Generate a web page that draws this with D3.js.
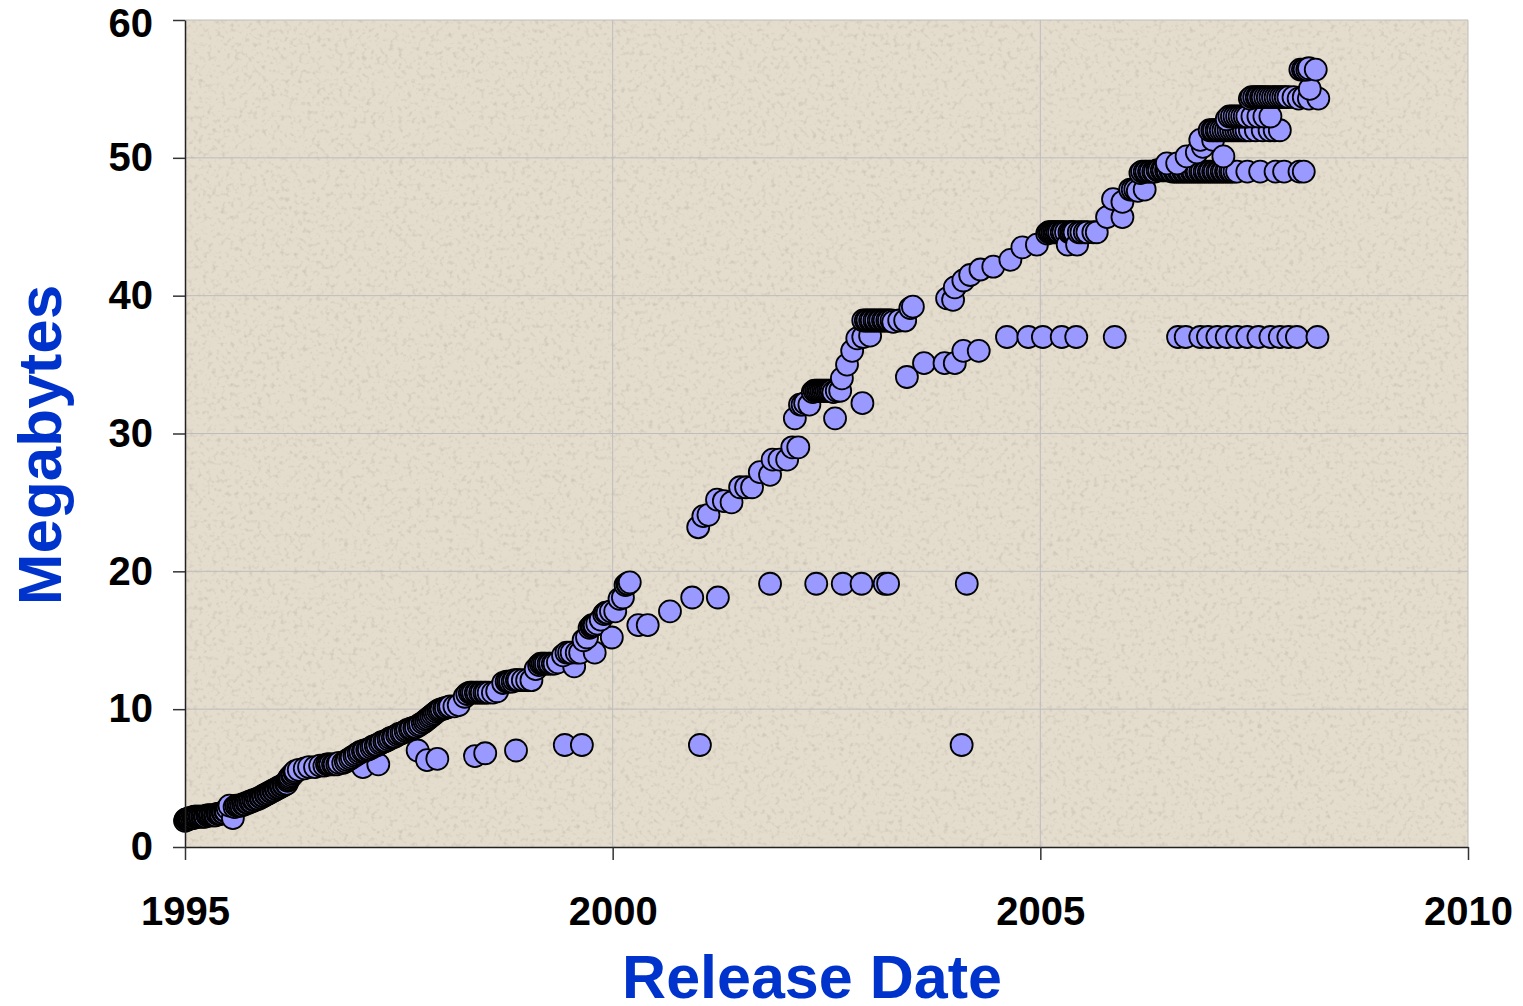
<!DOCTYPE html>
<html>
<head>
<meta charset="utf-8">
<script src="https://cdn.jsdelivr.net/npm/d3@7"></script>
<style>
  body { margin: 0; background: #fff; }
  text { font-family: Arial, "Liberation Sans", sans-serif; }
</style>
</head>
<body>
<div id="chart"></div>
<script>
// [release date (decimal year), size in MB]
var early = [[1995.00,1.9],[1995.01,2.0],[1995.02,2.0],[1995.03,2.0],[1995.04,2.0],[1995.05,2.1],[1995.06,2.1],
  [1995.08,2.1],[1995.10,2.1],[1995.11,2.2],[1995.12,2.2],[1995.14,2.2],[1995.15,2.2],[1995.17,2.2],[1995.18,2.2],
  [1995.20,2.2],[1995.21,2.2],[1995.23,2.2],[1995.24,2.2],[1995.26,2.3],[1995.27,2.3],[1995.29,2.3],[1995.30,2.3],
  [1995.32,2.3],[1995.33,2.3],[1995.35,2.3],[1995.36,2.3],[1995.38,2.4],[1995.39,2.4],[1995.41,2.4],[1995.42,2.4],
  [1995.44,2.5],[1995.45,2.5],[1995.47,2.6],[1995.48,2.6],[1995.50,2.8],[1995.56,2.1],[1995.52,3.0],[1995.58,2.9],
  [1995.60,3.0],[1995.62,3.0],[1995.64,3.0],[1995.66,3.0],[1995.68,3.1],[1995.70,3.1],[1995.72,3.2],[1995.74,3.2],
  [1995.76,3.3],[1995.78,3.3],[1995.80,3.4],[1995.82,3.4],[1995.84,3.5],[1995.86,3.5],[1995.88,3.6],[1995.89,3.6],
  [1995.91,3.7],[1995.92,3.7],[1995.94,3.8],[1995.95,3.8],[1995.97,3.9],[1995.98,3.9],[1996.00,4.0],[1996.01,4.0],
  [1996.03,4.1],[1996.04,4.1],[1996.06,4.2],[1996.07,4.2],[1996.09,4.3],[1996.10,4.3],[1996.12,4.4],[1996.13,4.4],
  [1996.15,4.5],[1996.16,4.5],[1996.18,4.6],[1996.19,4.6],[1996.20,4.8],[1996.21,4.9],[1996.22,5.0],[1996.23,5.1],
  [1996.25,5.2],[1996.26,5.3],[1996.28,5.4],[1996.29,5.5],[1996.33,5.6]];
var row6 = [[1996.40,5.7],[1996.45,5.8],[1996.52,5.8],[1996.58,5.9],[1996.63,5.9],[1996.66,6.0],[1996.68,6.0],
  [1996.70,6.0],[1996.73,6.0],[1996.75,6.0],[1996.78,6.0],[1996.80,6.1],[1996.85,6.1],[1997.08,5.8],[1997.26,6.0]];
var row7 = [[1997.72,7.0],[1997.83,6.3],[1997.95,6.4],[1998.39,6.6],[1998.51,6.8],[1998.87,7.0],[1999.44,7.4],
  [1999.64,7.4],[2001.02,7.4],[2004.08,7.4]];
var mainRise = [[1996.88,6.2],[1996.90,6.3],[1996.93,6.4],[1996.95,6.5],[1996.98,6.6],[1997.00,6.7],[1997.03,6.8],
  [1997.05,6.9],[1997.08,6.95],[1997.10,7.0],[1997.13,7.05],[1997.15,7.1],[1997.18,7.2],[1997.20,7.3],[1997.23,7.35],
  [1997.25,7.4],[1997.28,7.5],[1997.30,7.6],[1997.33,7.65],[1997.35,7.7],[1997.38,7.8],[1997.40,7.9],[1997.43,7.95],
  [1997.45,8.0],[1997.48,8.1],[1997.50,8.2],[1997.53,8.25],[1997.55,8.3],[1997.58,8.4],[1997.60,8.5],[1997.63,8.55],
  [1997.65,8.6],[1997.68,8.65],[1997.70,8.7],[1997.73,8.8],[1997.75,8.9],[1997.78,9.0],[1997.80,9.1],[1997.82,9.2],
  [1997.84,9.3],[1997.86,9.4],[1997.88,9.5],[1997.90,9.6],[1997.92,9.7],[1997.94,9.8],[1997.96,9.9],[1997.98,9.95],
  [1998.00,10.0],[1998.03,10.05],[1998.05,10.1],[1998.08,10.15],[1998.10,10.2],[1998.15,10.2],[1998.20,10.3],
  [1998.27,10.9],[1998.30,11.1],[1998.33,11.2],[1998.35,11.2],[1998.37,11.2],[1998.40,11.2],[1998.42,11.2],
  [1998.45,11.2],[1998.47,11.2],[1998.50,11.2],[1998.52,11.2],[1998.55,11.2],[1998.60,11.2],[1998.65,11.3],
  [1998.72,11.9],[1998.76,12.0],[1998.78,12.0],[1998.80,12.0],[1998.83,12.0],[1998.85,12.1],[1998.88,12.1],
  [1998.90,12.1],[1998.95,12.1],[1999.00,12.1],[1999.05,12.1]];
var rise2000 = [[1999.10,12.9],[1999.14,13.2],[1999.16,13.3],[1999.18,13.3],[1999.20,13.3],[1999.22,13.3],
  [1999.25,13.3],[1999.27,13.3],[1999.30,13.3],[1999.32,13.3],[1999.36,13.4],[1999.55,13.1],[1999.42,13.9],
  [1999.46,14.1],[1999.49,14.1],[1999.52,14.1],[1999.58,14.1],[1999.62,14.1],[1999.79,14.1],[1999.66,15.0],
  [1999.70,15.2],[1999.73,15.9],[1999.75,16.0],[1999.76,16.1],[1999.78,16.1],[1999.79,16.1],[1999.82,16.2],
  [1999.99,15.2],[1999.86,16.5],[1999.90,16.9],[1999.92,17.0],[1999.94,17.0],[1999.98,17.1],[2000.03,17.1],
  [2000.08,18.0],[2000.12,18.1],[2000.15,19.0],[2000.17,19.1],[2000.18,19.1],[2000.20,19.2]];
var row19 = [[2000.30,16.1],[2000.41,16.1],[2000.67,17.1],[2000.93,18.1],[2001.23,18.1],[2001.84,19.1],
  [2002.38,19.1],[2002.69,19.1],[2002.91,19.1],[2003.18,19.1],[2003.22,19.1],[2004.14,19.1]];
var rise2001 = [[2001.00,23.2],[2001.06,24.0],[2001.12,24.1],[2001.22,25.2],[2001.30,25.1],[2001.39,25.0],
  [2001.49,26.1],[2001.56,26.1],[2001.63,26.1],[2001.72,27.2],[2001.84,27.0],[2001.87,28.1],[2001.95,28.1],
  [2002.04,28.1],[2002.10,29.0],[2002.17,29.0],[2002.13,31.1],[2002.19,32.1],[2002.22,32.1],[2002.25,32.2],
  [2002.30,32.1],[2002.60,31.1],[2002.34,33.0],[2002.36,33.1],[2002.38,33.1],[2002.40,33.1],[2002.42,33.1],
  [2002.44,33.1],[2002.46,33.1],[2002.48,33.1],[2002.50,33.1],[2002.52,33.1],[2002.54,33.1],[2002.56,33.1],
  [2002.58,33.0],[2002.62,33.1],[2002.66,33.1],[2002.68,34.0],[2002.74,35.0],[2002.80,36.0],[2002.86,36.9],
  [2002.92,32.2],[2002.93,37.0],[2003.01,37.1],[2002.93,38.2],[2002.96,38.2],[2002.98,38.2],[2003.01,38.2],
  [2003.03,38.2],[2003.06,38.2],[2003.08,38.2],[2003.11,38.2],[2003.13,38.2],[2003.16,38.2],[2003.18,38.2],
  [2003.21,38.2],[2003.23,38.2],[2003.26,38.2],[2003.28,38.1],[2003.35,38.2],[2003.42,38.2],[2003.48,39.1],
  [2003.51,39.2]];
var row37 = [[2003.44,34.1],[2003.64,35.1],[2003.88,35.1],[2004.00,35.1],[2004.10,36.0],[2004.28,36.0],
  [2004.61,37.0],[2004.86,37.0],[2005.03,37.0],[2005.25,37.0],[2005.42,37.0],[2005.87,37.0],[2006.61,37.0],
  [2006.70,37.0],[2006.87,37.0],[2006.96,37.0],[2007.07,37.0],[2007.18,37.0],[2007.30,37.0],[2007.42,37.0],
  [2007.55,37.0],[2007.69,37.0],[2007.80,37.0],[2007.90,37.0],[2008.00,37.0],[2008.24,37.0]];
var rise2004 = [[2003.91,39.8],[2003.98,39.7],[2004.00,40.6],[2004.10,41.1],[2004.18,41.5],[2004.30,41.9],
  [2004.45,42.1],[2004.65,42.6],[2004.79,43.5],[2004.96,43.7],[2005.08,44.5],[2005.10,44.6],[2005.12,44.6],
  [2005.14,44.6],[2005.16,44.6],[2005.18,44.6],[2005.20,44.6],[2005.22,44.6],[2005.25,44.6],[2005.27,44.6],
  [2005.30,44.6],[2005.32,43.7],[2005.34,44.6],[2005.36,44.6],[2005.38,44.6],[2005.40,44.6],[2005.43,43.7],
  [2005.45,44.6],[2005.48,44.6],[2005.52,44.6],[2005.55,44.6],[2005.62,44.6],[2005.66,44.6],[2005.78,45.7],
  [2005.85,47.0],[2005.96,45.7],[2005.96,46.8],[2006.05,47.7],[2006.08,47.7],[2006.11,47.7],[2006.14,47.6],
  [2006.22,47.7]];
var row49 = [[2006.17,48.9],[2006.19,49.0],[2006.22,49.0],[2006.24,49.0],[2006.27,49.0],[2006.29,49.0],
  [2006.32,49.0],[2006.34,49.0],[2006.37,49.1],[2006.39,49.1],[2006.42,49.1],[2006.44,49.1],[2006.47,49.1],
  [2006.49,49.1],[2006.52,49.1],[2006.54,49.0],[2006.57,49.0],[2006.59,49.0],[2006.62,49.0],[2006.64,49.0],
  [2006.67,49.0],[2006.69,49.0],[2006.72,49.0],[2006.74,49.0],[2006.77,49.0],[2006.79,49.0],[2006.82,49.0],
  [2006.84,49.0],[2006.87,49.0],[2006.89,49.0],[2006.92,49.0],[2006.94,49.0],[2006.97,49.0],[2006.99,49.0],
  [2007.02,49.0],[2007.04,49.0],[2007.07,49.0],[2007.09,49.0],[2007.12,49.0],[2007.14,49.0],[2007.17,49.0],
  [2007.19,49.0],[2007.22,49.0],[2007.24,49.0],[2007.27,49.0],[2007.30,49.0],[2007.42,49.0],[2007.57,49.0],
  [2007.75,49.0],[2007.85,49.0],[2008.03,49.0],[2008.08,49.0]];
var steps2007 = [[2006.48,49.6],[2006.60,49.6],[2006.71,50.1],[2006.83,50.4],[2006.90,50.8],[2006.87,51.3],
  [2007.02,51.3],[2007.14,50.1],[2006.98,52.0],[2007.01,52.0],[2007.03,52.0],[2007.06,52.0],[2007.08,52.0],
  [2007.11,52.0],[2007.14,52.0],[2007.17,52.0],[2007.20,52.0],[2007.23,52.0],[2007.26,52.0],[2007.29,52.0],
  [2007.32,52.0],[2007.35,52.0],[2007.38,52.0],[2007.41,52.0],[2007.45,52.0],[2007.52,52.0],[2007.60,52.0],
  [2007.68,52.0],[2007.74,52.0],[2007.80,52.0],[2007.18,52.8],[2007.21,53.0],[2007.24,53.0],[2007.27,53.0],
  [2007.30,53.0],[2007.33,53.0],[2007.36,53.0],[2007.39,53.0],[2007.42,53.0],[2007.48,53.0],[2007.55,53.0],
  [2007.62,53.0],[2007.69,53.0],[2007.45,54.3],[2007.47,54.4],[2007.50,54.4],[2007.53,54.4],[2007.55,54.4],
  [2007.58,54.4],[2007.60,54.4],[2007.63,54.4],[2007.66,54.4],[2007.69,54.4],[2007.72,54.4],[2007.75,54.4],
  [2007.78,54.4],[2007.81,54.4],[2007.84,54.4],[2007.87,54.4],[2007.90,54.4],[2007.96,54.4],[2008.02,54.3],
  [2008.08,54.4],[2008.14,54.3],[2008.25,54.3],[2008.15,55.0],[2008.04,56.4],[2008.07,56.4],[2008.09,56.4],
  [2008.12,56.4],[2008.14,56.5],[2008.22,56.4]];

var yearTicks = [1995, 2000, 2005, 2010];
var mbTicks = [0, 10, 20, 30, 40, 50, 60];

var W = 1523, H = 1006;
var margin = {top: 20, right: 55, bottom: 159, left: 185};
var width = W - margin.left - margin.right,
    height = H - margin.top - margin.bottom;

var x = d3.scaleLinear().domain([1995, 2010]).range([0, width]);
var y = d3.scaleLinear().domain([0, 60]).range([height, 0]);

var svg = d3.select("#chart").append("svg")
  .attr("width", W).attr("height", H);

// speckled beige paper texture
var defs = svg.append("defs");
var f = defs.append("filter").attr("id", "grain")
  .attr("x", 0).attr("y", 0).attr("width", "100%").attr("height", "100%");
f.append("feTurbulence").attr("type", "fractalNoise")
  .attr("baseFrequency", 0.22).attr("numOctaves", 2).attr("seed", 7);
f.append("feColorMatrix").attr("type", "matrix")
  .attr("values", "0 0 0 0 0.50  0 0 0 0 0.45  0 0 0 0 0.38  2.4 0 0 0 -1.25");

var g = svg.append("g")
  .attr("transform", "translate(" + margin.left + "," + margin.top + ")");

g.append("rect").attr("width", width).attr("height", height).attr("fill", "#e4dccd");
g.append("rect").attr("width", width).attr("height", height)
  .attr("filter", "url(#grain)").attr("opacity", 0.6);

// grid
g.selectAll(".hgrid").data(mbTicks.slice(1)).enter().append("line")
  .attr("x1", 0).attr("x2", width)
  .attr("y1", function(d) { return y(d); }).attr("y2", function(d) { return y(d); })
  .attr("stroke", "#bdbdbd").attr("stroke-width", 1);
g.selectAll(".vgrid").data(yearTicks.slice(1)).enter().append("line")
  .attr("y1", 0).attr("y2", height)
  .attr("x1", function(d) { return x(d); }).attr("x2", function(d) { return x(d); })
  .attr("stroke", "#bdbdbd").attr("stroke-width", 1);

var all = [].concat(early, row6, mainRise, row7, rise2000, row19, rise2001, row37, rise2004, row49, steps2007);

g.selectAll(".dot").data(all).enter().append("circle")
  .attr("class", "dot")
  .attr("cx", function(d) { return x(d[0]); })
  .attr("cy", function(d) { return y(d[1]); })
  .attr("r", 11)
  .attr("fill", "#9999ff")
  .attr("stroke", "#000")
  .attr("stroke-width", 1.8);

var yAxis = g.append("g")
  .call(d3.axisLeft(y).tickValues(mbTicks).tickSize(12).tickPadding(20).tickSizeOuter(0));
var xAxis = g.append("g")
  .attr("transform", "translate(0," + height + ")")
  .call(d3.axisBottom(x).tickValues(yearTicks).tickFormat(d3.format("d"))
    .tickSize(13).tickPadding(37).tickSizeOuter(0));

[yAxis, xAxis].forEach(function(a) {
  a.select(".domain").attr("stroke", "#222").attr("stroke-width", 1.5);
  a.selectAll(".tick line").attr("stroke", "#333").attr("stroke-width", 1.5);
  a.selectAll("text").attr("fill", "#000").style("font-size", "40px").style("font-weight", "bold")
    .style("font-family", "Arial, 'Liberation Sans', sans-serif");
});
yAxis.select(".tick:last-of-type text").attr("dy", "0.42em");

svg.append("text")
  .attr("x", 812).attr("y", 998)
  .attr("text-anchor", "middle")
  .attr("fill", "#0033cc")
  .style("font-size", "61px").style("font-weight", "bold")
  .text("Release Date");

svg.append("text")
  .attr("transform", "translate(61,445) rotate(-90)")
  .attr("text-anchor", "middle")
  .attr("fill", "#0033cc")
  .style("font-size", "62px").style("font-weight", "bold")
  .text("Megabytes");
</script>
</body>
</html>
